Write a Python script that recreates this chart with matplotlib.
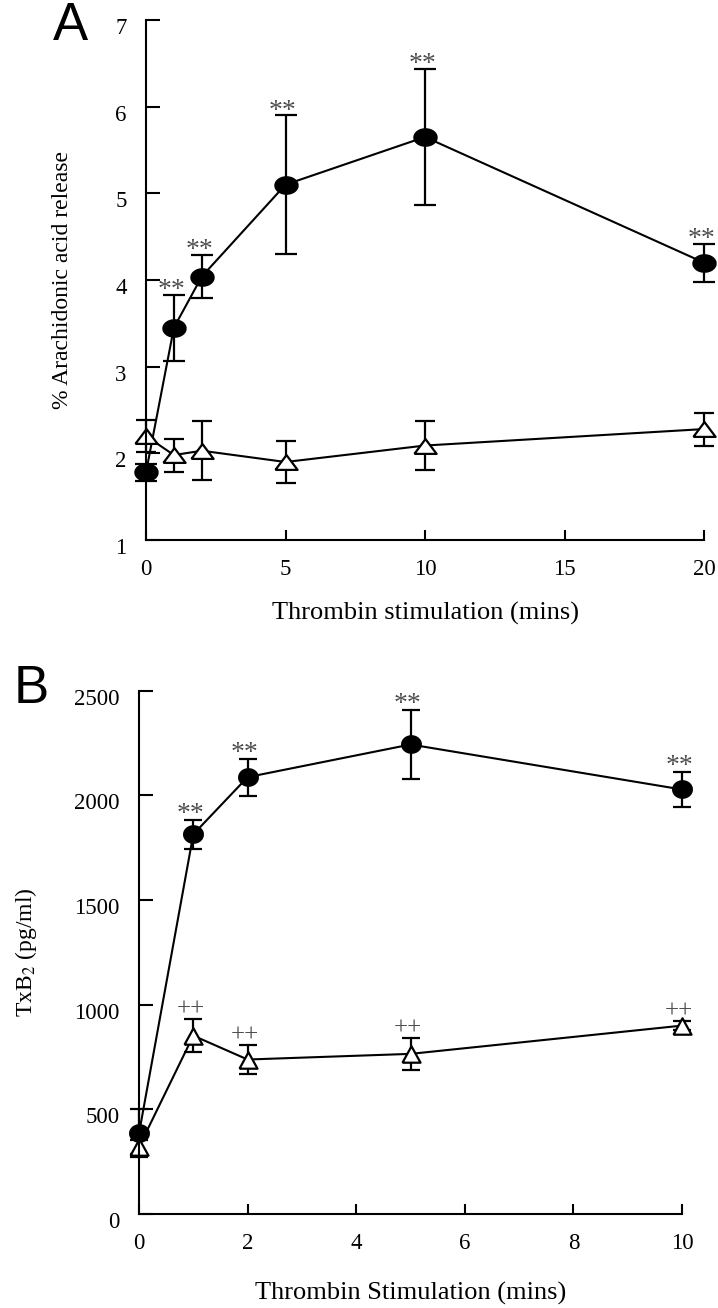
import numpy as np
import matplotlib
matplotlib.use("Agg")
import matplotlib.pyplot as plt
import matplotlib.transforms as mtransforms

plt.rcParams['font.family'] = ['Liberation Serif', 'DejaVu Serif']
plt.rcParams['mathtext.fontset'] = 'stix'

# Panel A: % arachidonic acid release
a_time = [0, 1, 2, 5, 10, 20]
a_thrombin = [1.78, 3.45, 4.04, 5.10, 5.65, 4.20]
a_thrombin_err = [0.10, 0.38, 0.25, 0.80, 0.79, 0.22]
a_ctrl = [2.20, 1.98, 2.03, 1.90, 2.09, 2.28]
a_ctrl_err = [0.19, 0.19, 0.34, 0.24, 0.28, 0.19]
a_stars = ['', '**', '**', '**', '**', '**']

# Panel B: TxB2 (pg/ml)
b_time = [0, 1, 2, 5, 10]
b_thrombin = [385, 1814, 2087, 2243, 2028]
b_thrombin_err = [115, 70, 88, 163, 83]
b_ctrl = [320, 852, 738, 765, 900]
b_ctrl_err = [35, 78, 68, 75, 22]
b_stars = ['', '**', '**', '**', '**']
b_plus = ['', '++', '++', '++', '++']

a_yticks = [1, 2, 3, 4, 5, 6, 7]
a_xticks = [0, 5, 10, 15, 20]
b_yticks = [0, 500, 1000, 1500, 2000, 2500]
b_xticks = [0, 2, 4, 6, 8, 10]

# marker shapes (slightly squashed like the scanned figure)
t = np.linspace(0, 2 * np.pi, 60)
def ellipse(aspect):
    return list(zip(np.cos(t), aspect * np.sin(t)))
def triangle(w):
    return [(-w, -1), (w, -1), (0, 1), (-w, -1)]


def draw(ax, x, y, err, marker, ms, mfc, capsize):
    eb = ax.errorbar(x, y, yerr=err, color='black', lw=1.5, marker=marker, ms=ms,
                     mfc=mfc, mec='black', mew=1.6, capsize=capsize, capthick=1.6,
                     elinewidth=1.6)
    for art in eb.get_children():
        art.set_clip_on(False)
    return eb


def style(ax):
    for s in ['top', 'right']:
        ax.spines[s].set_visible(False)
    for s in ['left', 'bottom']:
        ax.spines[s].set_linewidth(1.5)
    ax.tick_params(axis='y', direction='in', length=10, width=1.5, labelsize=16.5, pad=14)
    ax.tick_params(axis='x', direction='in', length=7, width=1.5, labelsize=16.5, pad=14)
    off = mtransforms.ScaledTranslation(0, -0.06, ax.figure.dpi_scale_trans)
    for tk in ax.yaxis.get_major_ticks():
        tk.label1.set_transform(tk.label1.get_transform() + off)


def annotate(ax, x, y, err, marks, dy, size):
    for xi, yi, ei, m in zip(x, y, err, marks):
        if m:
            ax.annotate(m, (xi, yi + ei), xytext=(-2, dy), textcoords='offset points',
                        ha='center', va='center', fontsize=size, color='0.3')


fig = plt.figure(figsize=(7.18, 13.08), dpi=100)

# ---- A ----
axA = fig.add_axes([146 / 718, 1 - 540 / 1308, 558 / 718, 520 / 1308])
draw(axA, a_time, a_thrombin, a_thrombin_err, ellipse(0.74), 16, 'black', 8)
draw(axA, a_time, a_ctrl, a_ctrl_err, triangle(1.5), 16, 'white', 7.5)
annotate(axA, a_time, a_thrombin, a_thrombin_err, a_stars, 3, 20)
axA.set_xlim(0, 20)
axA.set_ylim(1, 7)
axA.set_xticks(a_xticks)
axA.set_yticks(a_yticks)
style(axA)
axA.set_ylabel('% Arachidonic acid release', fontsize=17)
axA.yaxis.set_label_coords(-0.13, 0.5)
axA.set_xlabel('Thrombin stimulation (mins)', fontsize=19, va='center')
axA.xaxis.set_label_coords(0.5, -0.142)

# ---- B ----
axB = fig.add_axes([139 / 718, 1 - 1214 / 1308, 543 / 718, 523.3 / 1308])
draw(axB, b_time, b_thrombin, b_thrombin_err, ellipse(0.88), 13.5, 'black', 6.5)
draw(axB, b_time, b_ctrl, b_ctrl_err, triangle(1.1), 13, 'white', 6.5)
annotate(axB, b_time, b_thrombin, b_thrombin_err, b_stars, 4, 20)
annotate(axB, b_time, b_ctrl, b_ctrl_err, b_plus, 7, 18)
axB.set_xlim(0, 10)
axB.set_ylim(0, 2500)
axB.set_xticks(b_xticks)
axB.set_yticks(b_yticks)
style(axB)
axB.set_ylabel('TxB$_2$ (pg/ml)', fontsize=17)
axB.yaxis.set_label_coords(-0.185, 0.5)
axB.set_xlabel('Thrombin Stimulation (mins)', fontsize=19, va='center')
axB.xaxis.set_label_coords(0.5, -0.151)

fig.text(70 / 718, 1 - 26 / 1308, 'A', family='Liberation Sans', fontsize=38,
         ha='center', va='center')
fig.text(31 / 718, 1 - 689 / 1308, 'B', family='Liberation Sans', fontsize=38,
         ha='center', va='center')

fig.savefig('out.png', dpi=100)
